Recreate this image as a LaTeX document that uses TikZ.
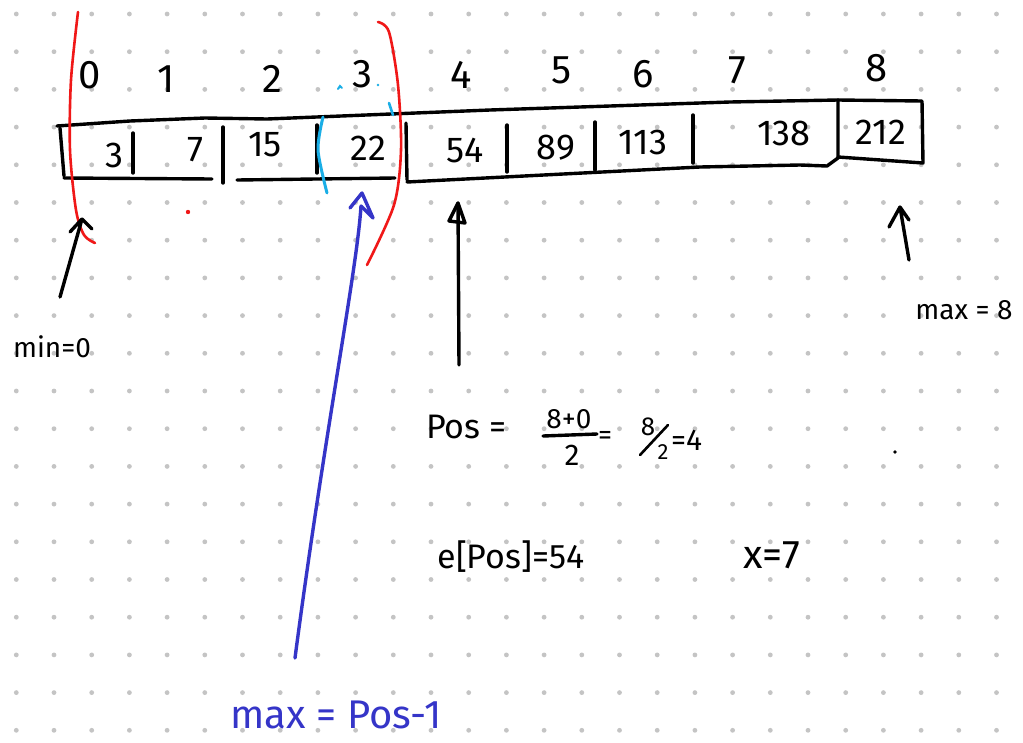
\documentclass[tikz,border=0pt]{standalone}
\usepackage{fontspec}
\setmainfont{Fira Sans}
\usetikzlibrary{arrows.meta}
\definecolor{penred}{HTML}{F01818}
\definecolor{penblue}{HTML}{3535C8}
\definecolor{pencyan}{HTML}{1AAEE6}
\definecolor{griddot}{HTML}{C4C4C4}
\begin{document}
\begin{tikzpicture}[x=1pt,y=-1pt,
  ink/.style={line width=3.4pt, line cap=round, line join=round},
  idx/.style={font=\fontsize{40}{44}\selectfont, inner sep=0pt},
  val/.style={font=\fontsize{36}{40}\selectfont, inner sep=0pt},
  note/.style={font=\fontsize{34}{38}\selectfont, inner sep=0pt},
  small/.style={font=\fontsize{28}{32}\selectfont, inner sep=0pt},
]
\useasboundingbox (0,0) rectangle (1023,742);
\fill[white] (0,0) rectangle (1023,742);
\foreach \i in {0,...,26} \foreach \j in {0,...,19}
  \fill[griddot] ({16.3+37.7*\i},{14+37.7*\j}) circle (2.4pt);

% index labels
\node[idx] (i0) at (90,75) {0};
\node[idx] (i1) at (166,79) {1};
\node[idx] (i2) at (272,79) {2};
\node[idx] (i3) at (362,74) {3};
\node[idx] (i4) at (461,75) {4};
\node[idx] (i5) at (562,70) {5};
\node[idx] (i6) at (643,74) {6};
\node[idx] (i7) at (737,70) {7};
\node[idx] (i8) at (877,68) {8};

% array outline
\draw[ink] (57,126) -- (130,121) -- (205,118) -- (267,119) -- (490,110) -- (730,102) -- (838,100);
\draw[ink] (60,128) -- (64,176);
\draw[ink] (64,178) -- (212,179);
\draw[ink] (237,180) -- (395,178);
\draw[ink] (407,182) -- (700,167) -- (800,165) -- (827,166) -- (838,158) -- (838,100);
\draw[ink] (838,100) -- (922,101) -- (923,163) -- (838,157);
% dividers
\draw[ink] (133,133) -- (133,173);
\draw[ink] (223,127) -- (223,183);
\draw[ink] (317,125) -- (317,173);
\draw[ink] (406,123) -- (407,180);
\draw[ink] (507,125) -- (507,172);
\draw[ink] (595,122) -- (595,170);
\draw[ink] (693,115) -- (693,163);

% cell values
\node[val] (c0) at (114,155) {3};
\node[val] (c1) at (195,150) {7};
\node[val] (c2) at (265,145) {15};
\node[val] (c3) at (368,148) {22};
\node[val] (c4) at (465,150) {54};
\node[val] (c5) at (556,148) {89};
\node[val] (c6) at (643,142) {113};
\node[val] (c7) at (784,133) {138};
\node[val] (c8) at (881,132) {212};

% red bracket curves
\draw[penred, line width=2.6pt, line cap=round]
  plot[smooth] coordinates {(78,12) (71,80) (70,150) (76,210) (84,235) (95,243)};
\draw[penred, line width=2.6pt, line cap=round]
  plot[smooth] coordinates {(378,22) (389,32) (398,85) (401,150) (394,205) (367,265)};
\fill[penred] (188,212) circle (2.2pt);

% cyan marks
\draw[pencyan, line width=3pt, line cap=round]
  plot[smooth] coordinates {(323,117) (318,150) (327,193)};
\draw[pencyan, line width=2pt, line cap=round] (338,89) -- (340,86) -- (342,88);
\fill[pencyan] (378,85) circle (1.4pt);
\draw[pencyan, line width=2.6pt, line cap=round] (389,103) -- (393,115);

% min pointer
\node[small] (minl) at (52,347) {min=0};
\coordinate (minfoot) at (60,297);
\coordinate (mintip) at (82,219);
\draw[ink] (minfoot) -- (mintip) -- (70,232) (mintip) -- (92,229);

% max pointer
\node[small] (maxl) at (964,310) {max = 8};
\coordinate (maxfoot) at (909,260);
\coordinate (maxtip) at (900,207);
\draw[ink] (maxfoot) -- (maxtip) -- (889,227) (maxtip) -- (909,220);

% pos pointer
\coordinate (posfoot) at (459,365);
\coordinate (postip) at (458,203);
\draw[ink] (posfoot) -- (postip);
\draw[ink] (postip) -- (449,221) -- (465,223) -- cycle;

% formula
\node[note, anchor=west] (pos) at (426,427) {Pos =};
\node[note, font=\fontsize{28}{30}\selectfont] (num) at (569,419) {8+0};
\node[note, font=\fontsize{30}{32}\selectfont] (den) at (572,455) {2};
\draw[ink] (543,436) -- (597,434);
\node[note, font=\fontsize{28}{30}\selectfont] (eq2) at (605,438) {=};
\node[note, font=\fontsize{26}{28}\selectfont] (n8) at (648,427) {8};
\node[note, font=\fontsize{22}{24}\selectfont] (n2) at (663,452) {2};
\draw[line width=2.6pt, line cap=round] (640,455) -- (668,425);
\node[note, font=\fontsize{30}{32}\selectfont, anchor=west] (res) at (671,440) {=4};

\node[note] (apos) at (511,557) {e[Pos]=54};
\node[note, font=\fontsize{40}{44}\selectfont] (xval) at (772,555) {x=7};
\fill (895,452) circle (1.8pt);

% blue new max
\node[note, text=penblue, font=\fontsize{40}{44}\selectfont] (newmax) at (336,715) {max = Pos-1};
\coordinate (bluefoot) at (295,658);
\coordinate (bluetip) at (362,193);
\draw[penblue, ink] (bluefoot) .. controls (325,430) and (357,270) .. (361,206);
\draw[penblue, ink] (350,208) -- (bluetip) -- (373,218) -- (361,206);
\end{tikzpicture}
\end{document}
